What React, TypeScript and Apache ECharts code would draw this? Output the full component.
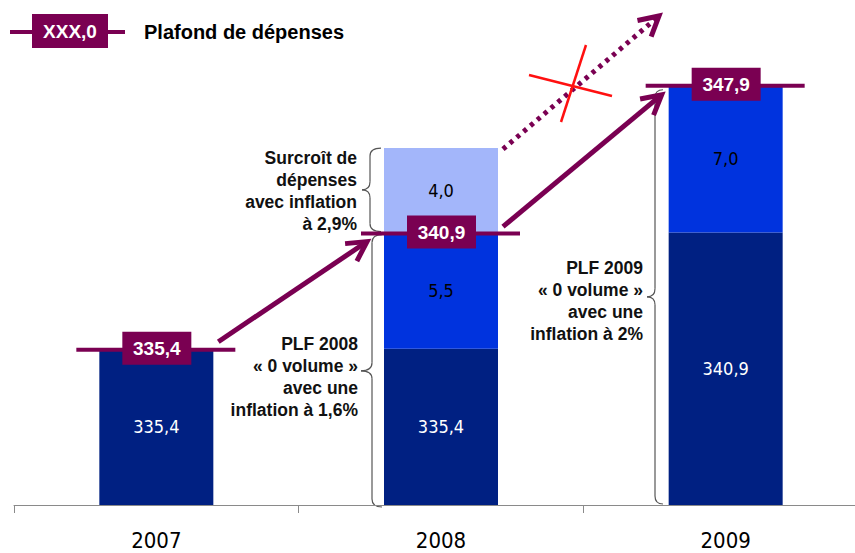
import React, { useEffect, useRef } from 'react';
import * as echarts from 'echarts';

const years = ['2007', '2008', '2009'];
const baseValues: (number | null)[] = [335.4, 335.4, 340.9];
const volumeValues: (number | null)[] = [null, 5.5, 7.0];
const extraValues: (number | null)[] = [null, 4.0, null];
const plafondValues = [335.4, 340.9, 347.9];
const legendSample = 'XXX,0';
const legendText = 'Plafond de dépenses';
const noteExtra = 'Surcroît de\ndépenses\navec inflation\nà 2,9%';
const note2008 = 'PLF 2008\n« 0 volume »\navec une\ninflation à 1,6%';
const note2009 = 'PLF 2009\n« 0 volume »\navec une\ninflation à 2%';

const PURPLE = '#7a0052';
const NAVY = '#002082';
const BLUE = '#0033de';
const LIGHT = '#a3b6fa';
const SANS = '"Liberation Sans", Arial, Helvetica, sans-serif';
const NARROW = '"Liberation Sans Narrow", "Arial Narrow", "DejaVu Sans Condensed", sans-serif';

const fmt = (v: number) => Number(v).toFixed(1).replace('.', ',');

const barLabel = (color: string) => ({
  show: true,
  position: 'inside',
  color,
  fontFamily: NARROW,
  fontSize: 18,
  formatter: (p: any) => fmt(p.value),
});

function brace(xr: number, xv: number, xt: number, y1: number, y2: number) {
  const r = 8;
  const m = (y1 + y2) / 2;
  const st = { stroke: '#555', lineWidth: 1.2, fill: null };
  return [
    { type: 'bezierCurve', shape: { x1: xr, y1, x2: xv, y2: y1 + r, cpx1: xv, cpy1: y1 }, style: st },
    { type: 'line', shape: { x1: xv, y1: y1 + r, x2: xv, y2: m - r }, style: st },
    { type: 'bezierCurve', shape: { x1: xv, y1: m - r, x2: xt, y2: m, cpx1: xv, cpy1: m }, style: st },
    { type: 'bezierCurve', shape: { x1: xt, y1: m, x2: xv, y2: m + r, cpx1: xv, cpy1: m }, style: st },
    { type: 'line', shape: { x1: xv, y1: m + r, x2: xv, y2: y2 - r }, style: st },
    { type: 'bezierCurve', shape: { x1: xv, y1: y2 - r, x2: xr, y2, cpx1: xv, cpy1: y2 }, style: st },
  ];
}

function arrow(x1: number, y1: number, x2: number, y2: number, dashed = false) {
  const ang = Math.atan2(y1 - y2, x1 - x2);
  const L = 22;
  const a = 0.5;
  const w1 = [x2 + L * Math.cos(ang + a), y2 + L * Math.sin(ang + a)];
  const w2 = [x2 + L * Math.cos(ang - a), y2 + L * Math.sin(ang - a)];
  const ex = x2 + 3 * Math.cos(ang);
  const ey = y2 + 3 * Math.sin(ang);
  return [
    {
      type: 'line',
      shape: { x1, y1, x2: ex, y2: ey },
      style: { stroke: PURPLE, lineWidth: 5, lineDash: dashed ? [4, 5] : null },
    },
    {
      type: 'polyline',
      shape: { points: [w1, [x2, y2], w2] },
      style: { stroke: PURPLE, lineWidth: 5, fill: null, lineJoin: 'miter' },
    },
  ];
}

function note(text: string, x: number, y: number) {
  return {
    type: 'text',
    style: {
      text,
      x,
      y,
      align: 'right',
      verticalAlign: 'middle',
      font: `bold 17.5px ${SANS}`,
      lineHeight: 22,
      fill: '#111',
    },
  };
}

export default function App() {
  const ref = useRef<HTMLDivElement>(null);
  useEffect(() => {
    if (!ref.current) return;
    document.body.style.margin = '0';
    const chart = echarts.init(ref.current, null, { renderer: 'svg' });
    chart.setOption({
      animation: false,
      backgroundColor: '#fff',
      grid: { left: 14, width: 854, top: 40.4, bottom: 48, outerBoundsMode: 'none', containLabel: false },
      xAxis: {
        type: 'category',
        data: years,
        axisLine: { lineStyle: { color: '#8a8a8a', width: 1 } },
        axisTick: { show: true, length: 8, lineStyle: { color: '#8a8a8a' } },
        axisLabel: { fontFamily: NARROW, fontSize: 22, color: '#000', margin: 24 },
      },
      yAxis: { type: 'value', min: 328, max: 350, show: false, splitLine: { show: false } },
      series: [
        {
          name: 'base', type: 'bar', stack: 'a', barWidth: 114, data: baseValues,
          itemStyle: { color: NAVY }, label: barLabel('#ffffff'), clip: true,
        },
        {
          name: 'volume', type: 'bar', stack: 'a', barWidth: 114, data: volumeValues,
          itemStyle: { color: BLUE }, label: barLabel('#000000'), clip: true,
        },
        {
          name: 'extra', type: 'bar', stack: 'a', barWidth: 114, data: extraValues,
          itemStyle: { color: LIGHT }, label: barLabel('#000000'), clip: true,
        },
        {
          name: 'plafond', type: 'custom', z: 5,
          data: plafondValues.map((v, i) => [i, v]),
          renderItem: (_params: any, api: any) => {
            const p = api.coord([api.value(0), api.value(1)]);
            return {
              type: 'group',
              children: [
                { type: 'line', shape: { x1: p[0] - 80, y1: p[1] + 1, x2: p[0] + 79, y2: p[1] + 1 }, style: { stroke: PURPLE, lineWidth: 4 } },
                { type: 'rect', shape: { x: p[0] - 34, y: p[1] - 17, width: 69, height: 33 }, style: { fill: PURPLE } },
                {
                  type: 'text',
                  style: {
                    text: fmt(api.value(1)), x: p[0] + 0.5, y: p[1] - 0.5,
                    align: 'center', verticalAlign: 'middle', fill: '#fff', font: `bold 19px ${SANS}`,
                  },
                },
              ],
            };
          },
        },
      ],
    });

    const px = (i: number, v: number) => chart.convertToPixel({ gridIndex: 0 }, [i, v]) as number[];
    const p07 = px(0, plafondValues[0]);
    const p08 = px(1, plafondValues[1]);
    const p09 = px(2, plafondValues[2]);
    const top08 = px(1, (baseValues[1] as number) + (volumeValues[1] as number) + (extraValues[1] as number));
    const mid08 = px(1, (baseValues[1] as number) + (volumeValues[1] as number));
    const bottom = px(0, 328)[1];

    const graphics: any[] = [
      // legend
      { type: 'line', shape: { x1: 10, y1: 32, x2: 125, y2: 32 }, style: { stroke: PURPLE, lineWidth: 4 } },
      { type: 'rect', shape: { x: 32, y: 14, width: 76, height: 34 }, style: { fill: PURPLE } },
      { type: 'text', style: { text: legendSample, x: 70, y: 31.5, align: 'center', verticalAlign: 'middle', fill: '#fff', font: `bold 19px ${SANS}` } },
      { type: 'text', style: { text: legendText, x: 144, y: 32, align: 'left', verticalAlign: 'middle', fill: '#000', font: `bold 20px ${SANS}` } },
      // notes
      note(noteExtra, 357, 191),
      note(note2008, 358, 377),
      note(note2009, 643, 301),
      // braces
      ...brace(381, 370, 362, top08[1], mid08[1] - 1),
      ...brace(382, 372, 361, mid08[1] + 2, bottom + 2),
      ...brace(663, 655, 647, p09[1] + 5, bottom - 1),
      // arrows
      ...arrow(p07[0] + 62, p07[1] - 7, p08[0] - 74, p08[1] + 9),
      ...arrow(p08[0] + 62, p08[1] - 6, p09[0] - 64, p09[1] + 10),
      ...arrow(top08[0] + 62, top08[1] + 1, 659, 16, true),
      // red cross
      { type: 'line', shape: { x1: 529, y1: 75, x2: 612, y2: 96 }, style: { stroke: '#ff1010', lineWidth: 2.5 } },
      { type: 'line', shape: { x1: 586, y1: 45, x2: 561, y2: 122 }, style: { stroke: '#ff1010', lineWidth: 2.5 } },
    ];
    chart.setOption({ graphic: { elements: graphics } });
    return () => chart.dispose();
  }, []);
  return <div ref={ref} style={{ position: 'absolute', left: 0, top: 0, width: 855, height: 553 }} />;
}
